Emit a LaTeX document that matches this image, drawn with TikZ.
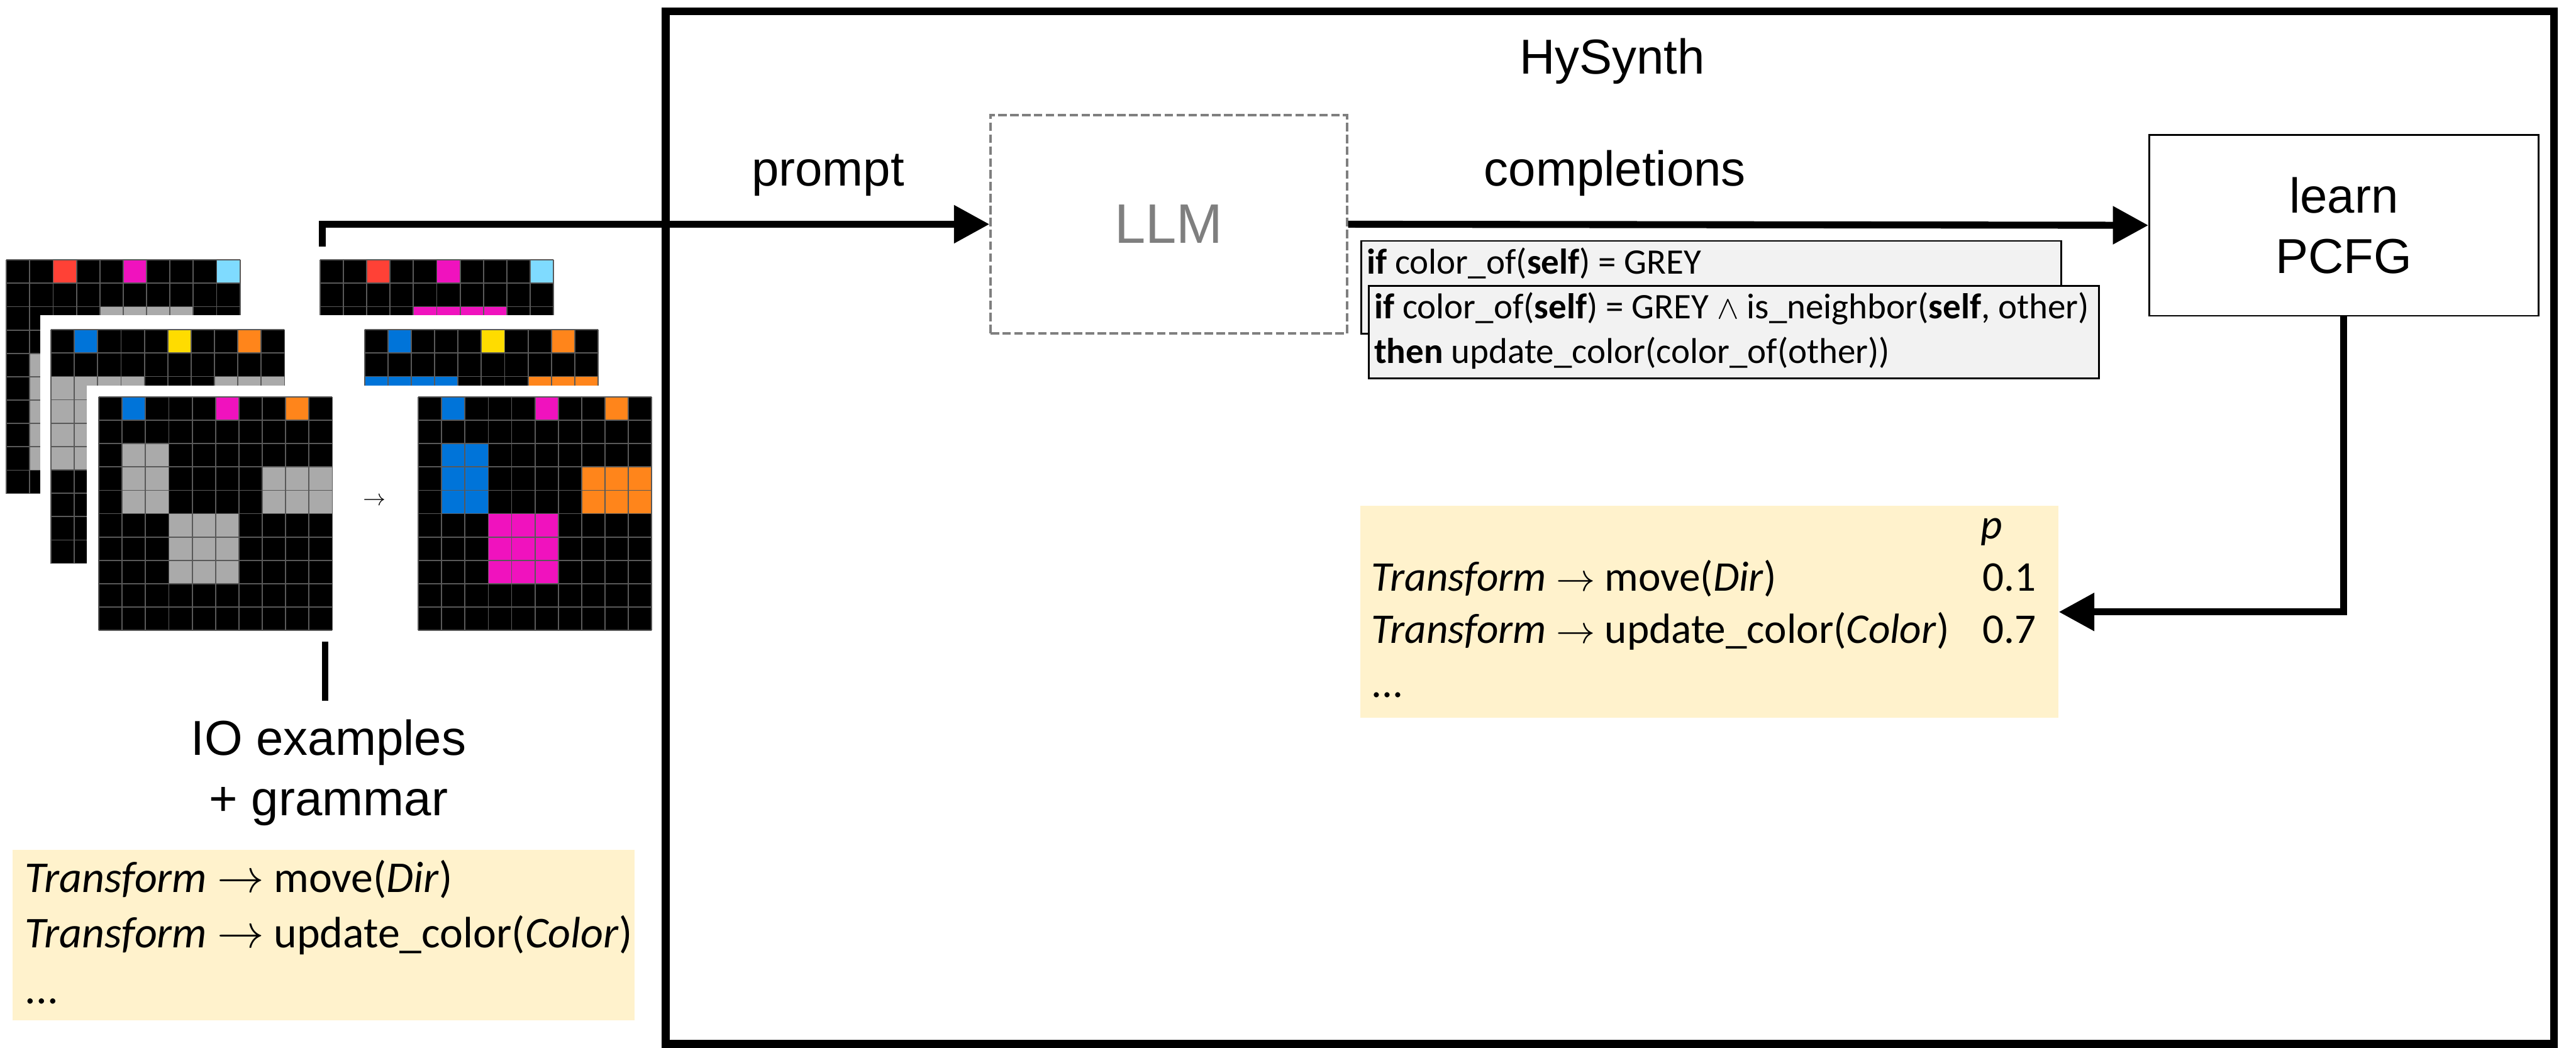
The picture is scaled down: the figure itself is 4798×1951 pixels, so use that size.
\documentclass[tikz,border=0pt]{standalone}
\usepackage{fontspec}
\setmainfont{Liberation Sans}
\newfontfamily\calibri{Carlito}
\usetikzlibrary{arrows.meta}

\definecolor{arcblue}{HTML}{0074D9}
\definecolor{arcred}{HTML}{FF4136}
\definecolor{arcyellow}{HTML}{FFDC00}
\definecolor{arcgrey}{HTML}{AAAAAA}
\definecolor{arcpink}{HTML}{F012BE}
\definecolor{arcorange}{HTML}{FF851B}
\definecolor{arccyan}{HTML}{7FDBFF}
\definecolor{notes}{HTML}{FFF2CC}
\definecolor{codebg}{HTML}{F2F2F2}
\definecolor{llmgrey}{HTML}{7F7F7F}

% 10x10 ARC grid at #1, blocks given as col1/row1/col2/row2/colour
\newcommand{\arcgrid}[2]{%
  \begin{scope}[shift={#1}]
    \fill[black] (0,0) rectangle (435,435);
    \foreach \xa/\ya/\xb/\yb/\tint in {#2}
      \fill[\tint] (43.5*\xa,43.5*\ya) rectangle (43.5*\xb+43.5,43.5*\yb+43.5);
    \foreach \i in {0,...,10} {
      \draw[gridline] (43.5*\i,0) -- (43.5*\i,435);
      \draw[gridline] (0,43.5*\i) -- (435,43.5*\i);
    }
  \end{scope}}

\begin{document}
\begin{tikzpicture}
[x=0.1mm,y=-0.1mm,every node/.style={inner sep=0pt},
 gridline/.style={draw=black!65,line width=0.6pt},
 flow/.style={line width=3.7pt,-{Triangle[length=18.8pt,width=19.4pt]}},
 txt/.style={font=\fontsize{26}{32}\selectfont},
 codebox/.style={draw,line width=0.8pt,fill=codebg},
 code/.style={font=\calibri\fontsize{19}{23}\selectfont,anchor=base west},
 rule/.style={font=\calibri\fontsize{22.4}{26}\selectfont,anchor=base west}]
\useasboundingbox (0,0) rectangle (4798,1951);

\arcgrid{(12,484)}{2/0/2/0/arcred,5/0/5/0/arcpink,9/0/9/0/arccyan,4/2/7/3/arcgrey,1/4/2/8/arcgrey}
\arcgrid{(596,484)}{2/0/2/0/arcred,5/0/5/0/arcpink,9/0/9/0/arccyan,4/2/7/3/arcpink,1/4/2/8/arcred}
\fill[white] (75,587) rectangle (1140,1070);
\arcgrid{(95,614)}{1/0/1/0/arcblue,5/0/5/0/arcyellow,8/0/8/0/arcorange,0/2/3/2/arcgrey,0/3/1/5/arcgrey,7/2/9/4/arcgrey,4/6/6/8/arcgrey}
\arcgrid{(679,614)}{1/0/1/0/arcblue,5/0/5/0/arcyellow,8/0/8/0/arcorange,0/2/3/2/arcblue,0/3/1/5/arcblue,7/2/9/4/arcorange,4/6/6/8/arcyellow}
\fill[white] (162,718) rectangle (1232,1196);
\arcgrid{(184,739)}{1/0/1/0/arcblue,5/0/5/0/arcpink,8/0/8/0/arcorange,1/2/2/4/arcgrey,7/3/9/4/arcgrey,3/5/5/7/arcgrey}
\arcgrid{(779,739)}{1/0/1/0/arcblue,5/0/5/0/arcpink,8/0/8/0/arcorange,1/2/2/4/arcblue,7/3/9/4/arcorange,3/5/5/7/arcpink}
\node (pair) at (697,933) {\fontsize{13}{13}\selectfont$\rightarrow$};

\node[draw,line width=4.2pt,minimum width=351.7mm,minimum height=192.3mm] (hysynth) at (2998.5,982.5) {};
\node[txt,anchor=base] (title) at (3003,138) {HySynth};
\node[draw=llmgrey,line width=1.2pt,dash pattern=on 4.5pt off 1.8pt,text=llmgrey,
  font=\fontsize{29.5}{34}\selectfont,minimum width=66.4mm,minimum height=40.7mm] (llm) at (2177,417.5) {LLM};
\node[draw,line width=0.9pt,txt,align=center,minimum width=72.5mm,minimum height=33.7mm] (learn) at (4365.5,419.5) {learn\\PCFG};
\node[txt,anchor=base] (promptlbl) at (1542,346) {prompt};
\node[txt,anchor=base] (complbl) at (3008,346) {completions};

\node[codebox,minimum width=130.4mm,minimum height=17.3mm,anchor=north west] (guess1) at (2534,447) {};
\node[code] (guess1a) at (2545,510) {\textbf{if} color\_of(\textbf{self}) = GREY};
\node[codebox,minimum width=136mm,minimum height=17.2mm,anchor=north west] (guess2) at (2548,531) {};
\node[code] (guess2a) at (2559,593) {\textbf{if} color\_of(\textbf{self}) = GREY $\wedge$ is\_neighbor(\textbf{self}, other)};
\node[code] (guess2b) at (2559,677) {\textbf{then} update\_color(color\_of(other))};

\node[fill=notes,minimum width=130mm,minimum height=39.5mm] (pcfg) at (3184,1139.5) {};
\node[rule] (pcol) at (3688,1003) {\textit{p}};
\node[rule] (prule1) at (2554,1100) {\textit{Transform} $\rightarrow$ move(\textit{Dir})};
\node[rule] (pval1) at (3692,1100) {0.1};
\node[rule] (prule2) at (2554,1198) {\textit{Transform} $\rightarrow$ update\_color(\textit{Color})};
\node[rule] (pval2) at (3692,1198) {0.7};
\node[rule] (pmore) at (2554,1298) {...};

\node[txt,align=center,anchor=base] (io) at (612,1519) {IO examples\\+ grammar};
\node[fill=notes,minimum width=115.8mm,minimum height=31.8mm] (gram) at (603,1741) {};
\node[rule,font=\calibri\fontsize{23.3}{27}\selectfont] (grule1) at (46,1661) {\textit{Transform} $\rightarrow$ move(\textit{Dir})};
\node[rule,font=\calibri\fontsize{23.3}{27}\selectfont] (grule2) at (46,1765) {\textit{Transform} $\rightarrow$ update\_color(\textit{Color})};
\node[rule,font=\calibri\fontsize{23.3}{27}\selectfont] (gmore) at (46,1869) {...};

\coordinate (ioTop) at (600,459);
\coordinate (ioTick) at (606,1195);
\draw[line width=3.4pt] (ioTick) -- ++(0,110);
\draw[flow] (ioTop) |- (llm.west);
\draw[flow] (llm.east) -- (learn.west);
\draw[flow] (learn.south) |- (pcfg.east);
\end{tikzpicture}
\end{document}
